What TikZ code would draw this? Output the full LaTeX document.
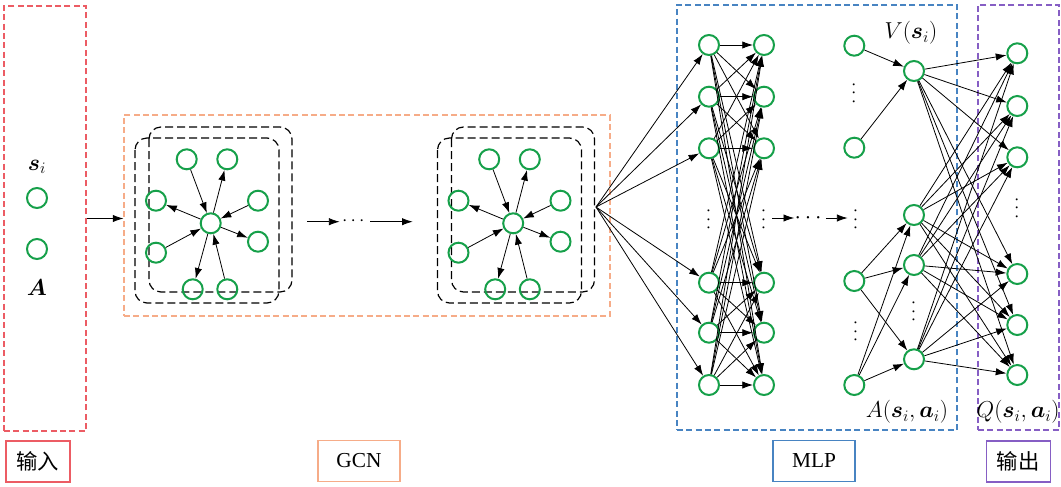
\documentclass[tikz,border=0pt]{standalone}
\usepackage{amsmath}
\usepackage{amssymb}
\usepackage{fontspec}
\setmainfont{Liberation Serif}
\newfontfamily\cjk{Noto Sans CJK SC}
\usepackage{tikz}
\usetikzlibrary{positioning}
\usetikzlibrary{calc}
\usetikzlibrary{fit}
\usetikzlibrary{arrows.meta}
\definecolor{ngreen}{RGB}{22,160,74}
\definecolor{inred}{RGB}{236,92,100}
\definecolor{gcnorange}{RGB}{246,172,136}
\definecolor{mlpblue}{RGB}{72,132,194}
\definecolor{outpurple}{RGB}{134,94,196}
\tikzset{every picture/.style={line width=0.6pt},
neuron/.style={circle,draw=ngreen,line width=1.5pt,minimum size=15pt,inner sep=0pt},
part/.style={draw,dash pattern=on 4.5pt off 2.5pt,line width=0.8pt,inner sep=0pt},
tag/.style={draw,line width=1.1pt,inner sep=0pt,minimum height=31pt,font=\fontsize{16}{16}\selectfont},
gcnframe/.style={draw,dash pattern=on 6pt off 3pt,line width=0.9pt,rounded corners=9pt},
vdts/.style={rotate=90,inner sep=0pt,minimum height=12pt,font=\fontsize{14.4}{15}\selectfont},
mlab/.style={font=\fontsize{17.28}{18}\selectfont},
arw/.style={-{Latex[length=8pt,width=5.5pt]}}}

\begin{document}
\begin{tikzpicture}[x={(0.75pt,0)}, y={(0,-0.75pt)}]
\useasboundingbox (0,0) rectangle (1061,486);

\node (inbox) [part, draw=inred, fit={(4,6) (86,431)}] {};
\node (gcnbox) [part, draw=gcnorange, fit={(124,115) (610,316)}] {};
\node (mlpbox) [part, draw=mlpblue, fit={(677,5) (957,430)}] {};
\node (outbox) [part, draw=outpurple, fit={(978,5) (1059,430)}] {};

\node (si) at (37,167) [mlab] {$\boldsymbol{s}_i$};
\node (x1) at (37,198) [neuron] {};
\node (x2) at (37,249) [neuron] {};
\node (adj) at (37,288) [mlab] {$\boldsymbol{A}$};
\draw[arw] (inbox.east) -- (inbox.east -| gcnbox.west);

\foreach \g in {0,1} {
\begin{scope}[shift={(\g*302.5,0)}]
\draw[gcnframe] (149,127) rectangle (292,292);
\draw[gcnframe] (135,138) rectangle (279,303);
\node (c\g) at (210.7,223.3) [neuron] {};
\node (ta\g) at (186.7,159.3) [neuron] {};
\node (tb\g) at (227.3,159.3) [neuron] {};
\node (la\g) at (156,200.7) [neuron] {};
\node (ra\g) at (258,200.7) [neuron] {};
\node (lb\g) at (156,252.7) [neuron] {};
\node (rb\g) at (258,241.7) [neuron] {};
\node (ba\g) at (192.7,289.3) [neuron] {};
\node (bb\g) at (227.3,289.3) [neuron] {};
\foreach \u/\v in {ta/c, c/tb, c/la, ra/c, lb/c, c/rb, c/ba, bb/c}
\draw[arw] (\u\g) -- (\v\g);
\end{scope}
}

\coordinate (ga) at (307,221.7);
\node (gd) at (355,221.7) [inner sep=0pt, minimum width=22.5pt, font=\fontsize{14.4}{15}\selectfont] {$\cdots$};
\coordinate (gb) at (412.7,221.7);
\draw[arw] (ga) -- (gd);
\draw[arw] (gd) -- (gb);

\coordinate (fan) at (596,207);
\foreach \y [count=\i] in {45,96.7,148.3,282.7,332.7,385} {
\node (p\i) at (709,\y) [neuron] {};
\node (q\i) at (764,\y) [neuron] {};
}
\node (pd) at (709,218) [vdts] {$\cdots$};
\node (qd) at (764,218) [vdts] {$\cdots$};
\foreach \i in {1,...,6} {
\draw[arw] (fan) -- (p\i);
\foreach \j in {1,...,6}
\draw[arw] (p\i) -- (q\j);
}

\node (md) at (810,218) [inner sep=0pt, minimum width=23pt, font=\fontsize{17.28}{18}\selectfont] {$\cdots$};
\node (rd) at (856,218) [vdts] {$\cdots$};
\draw[arw] (qd) -- (md);
\draw[arw] (md) -- (rd);

\node (ra) at (854.3,45.7) [neuron] {};
\node (rv) at (854.3,91.7) [vdts] {$\cdots$};
\node (rb) at (854.3,147.7) [neuron] {};
\node (rc) at (854.3,281) [neuron] {};
\node (rw) at (856,330) [vdts] {$\cdots$};
\node (rf) at (854.3,385) [neuron] {};

\node (v) at (914,71) [neuron] {};
\node (a1) at (914,215) [neuron] {};
\node (a2) at (914,265) [neuron] {};
\node (ad) at (914,310) [vdts] {$\cdots$};
\node (a3) at (914,359.3) [neuron] {};
\node (vlab) at (911,33) [mlab] {$V(\boldsymbol{s}_i)$};
\node (alab) at (907,412) [mlab] {$A(\boldsymbol{s}_i,\boldsymbol{a}_i)$};

\foreach \u in {ra,rb}
\draw[arw] (\u) -- (v);
\foreach \u in {rc,rf}
\foreach \w in {a1,a2,a3}
\draw[arw] (\u) -- (\w);

\foreach \y [count=\i] in {53.3,106,157.3,274,325,375}
\node (o\i) at (1017.3,\y) [neuron] {};
\node (od) at (1017.3,206.7) [vdts] {$\cdots$};
\node (qlab) at (1018,412) [mlab] {$Q(\boldsymbol{s}_i,\boldsymbol{a}_i)$};
\foreach \u in {v,a1,a2,a3}
\foreach \j in {1,...,6}
\draw[arw] (\u) -- (o\j);

\node (intag) at (38,461.5) [tag, draw=inred, minimum width=48pt] {\cjk 输入};
\node (gcntag) at (359,461) [tag, draw=gcnorange, minimum width=61.5pt] {GCN};
\node (mlptag) at (814,461) [tag, draw=mlpblue, minimum width=61.5pt] {MLP};
\node (outtag) at (1018.3,461.5) [tag, draw=outpurple, minimum width=48pt] {\cjk 输出};
\end{tikzpicture}
\end{document}
